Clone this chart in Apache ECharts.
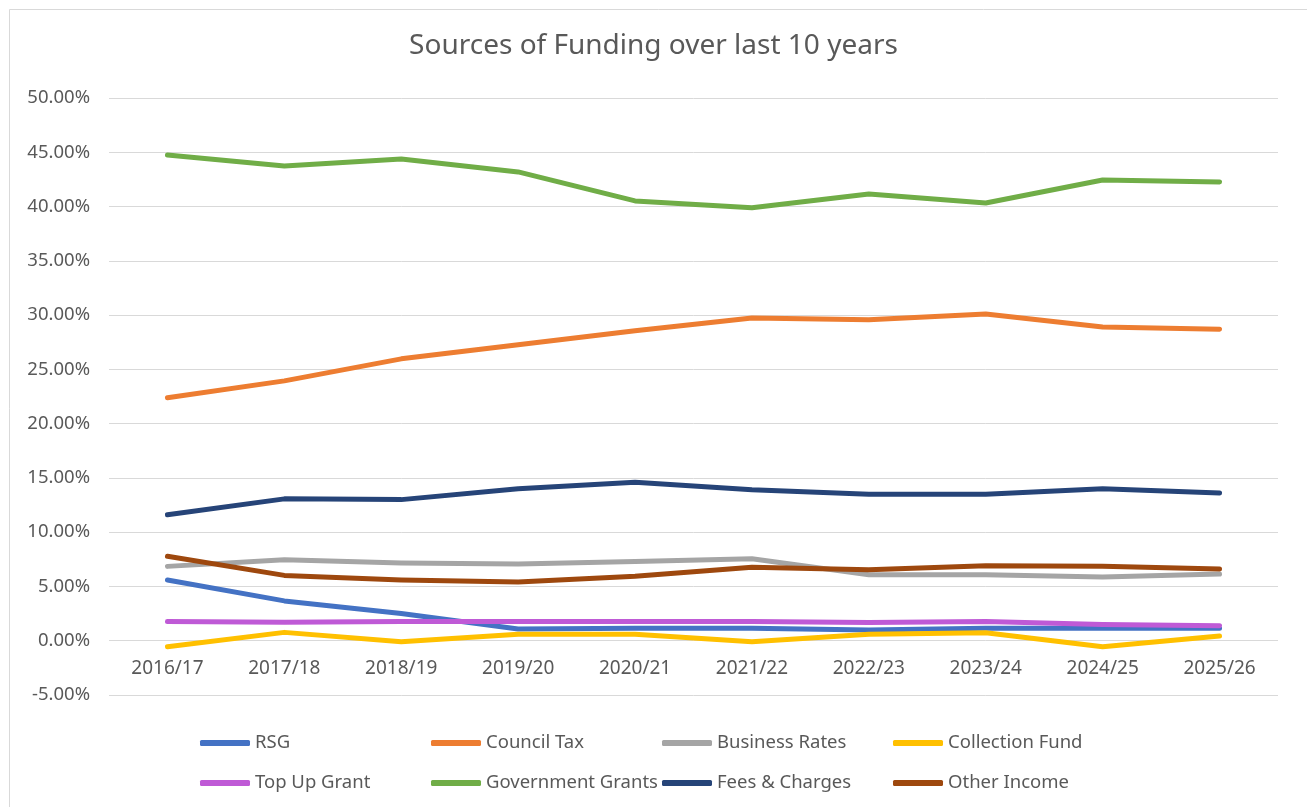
<!doctype html>
<html>
	<head>
		<meta charset="UTF-8">
		<title>Sources of Funding over last 10 years</title>
		<style type="text/css">
			html, body {
				margin: 0;
				padding: 0;
				background: #ffffff;
			}
			#chart {
				width: 1307px;
				height: 807px;
			}
		</style>
	</head>
	<body>
		<div id="chart"></div>
		<script src="https://cdn.jsdelivr.net/npm/echarts@6/dist/echarts.min.js"></script>
		<script type="text/javascript">
			// years on the category axis
			var years = ['2016/17', '2017/18', '2018/19', '2019/20', '2020/21', '2021/22', '2022/23', '2023/24', '2024/25', '2025/26'];

			// share of funding, in percent
			var rsg = [5.6, 3.67, 2.5, 1.08, 1.14, 1.14, 0.99, 1.14, 1.14, 1.14];
			var councilTax = [22.38, 23.94, 25.97, 27.26, 28.55, 29.74, 29.56, 30.1, 28.9, 28.7];
			var businessRates = [6.85, 7.47, 7.16, 7.07, 7.3, 7.56, 6.08, 6.08, 5.86, 6.14];
			var collectionFund = [-0.56, 0.77, -0.09, 0.59, 0.59, -0.09, 0.59, 0.74, -0.56, 0.43];
			var topUpGrant = [1.76, 1.7, 1.76, 1.76, 1.76, 1.76, 1.67, 1.76, 1.5, 1.39];
			var govGrants = [44.75, 43.74, 44.38, 43.19, 40.52, 39.88, 41.16, 40.33, 42.45, 42.27];
			var feesCharges = [11.6, 13.07, 13.0, 14.0, 14.6, 13.9, 13.5, 13.5, 14.0, 13.6];
			var otherIncome = [7.78, 6.02, 5.6, 5.4, 5.93, 6.76, 6.54, 6.91, 6.85, 6.6];

			// y axis ticks
			var yMin = -5, yMax = 50, yStep = 5;

			var names = ['RSG', 'Council Tax', 'Business Rates', 'Collection Fund', 'Top Up Grant', 'Government Grants', 'Fees & Charges', 'Other Income'];
			var values = [rsg, councilTax, businessRates, collectionFund, topUpGrant, govGrants, feesCharges, otherIncome];
			var colors = ['#4472C4', '#ED7D31', '#A5A5A5', '#FFC000', '#BF5AD6', '#70AD47', '#264478', '#9E480E'];

			var font = 'Noto Sans';
			var grey = '#595959';

			// plot box
			var gridTop = 98, gridBottom = 112;
			var plotHeight = 807 - gridTop - gridBottom;
			// move the category axis up so that it sits on 0%
			var zeroShift = plotHeight * (0 - yMin) / (yMax - yMin);

			var series = [];
			for (var i = 0; i < names.length; i++) {
				series.push({
					name: names[i],
					type: 'line',
					data: values[i],
					symbol: 'none',
					smooth: false,
					lineStyle: { width: 5, color: colors[i], cap: 'round', join: 'round' },
					itemStyle: { color: colors[i] }
				});
			}

			function makeLegend(items, top) {
				return {
					data: items,
					left: 200,
					top: top,
					padding: 0,
					orient: 'horizontal',
					icon: 'roundRect',
					itemWidth: 50,
					itemHeight: 6,
					itemGap: 0,
					textStyle: {
						fontFamily: font,
						fontSize: 18.5,
						color: grey,
						width: 176,
						lineHeight: 20
					}
				};
			}

			var chart = echarts.init(document.getElementById('chart'));
			var option = {
				backgroundColor: '#ffffff',
				animation: false,
				color: colors,
				title: {
					text: 'Sources of Funding over last 10 years',
					left: 'center',
					top: 27,
					textStyle: { fontFamily: font, fontSize: 28, fontWeight: 'normal', color: grey }
				},
				graphic: [{
					type: 'rect',
					shape: { x: 9.5, y: 9.5, width: 1320, height: 820 },
					style: { fill: 'none', stroke: '#d9d9d9', lineWidth: 1 },
					silent: true
				}],
				legend: [
					makeLegend(names.slice(0, 4), 733),
					makeLegend(names.slice(4), 773)
				],
				grid: { left: 109, right: 29, top: gridTop, bottom: gridBottom, containLabel: false },
				xAxis: {
					type: 'category',
					data: years,
					boundaryGap: true,
					position: 'bottom',
					offset: -zeroShift,
					axisLine: { show: false, onZero: false },
					axisTick: { show: false },
					axisLabel: { fontFamily: font, fontSize: 19, color: grey, margin: 18 }
				},
				yAxis: {
					type: 'value',
					min: yMin,
					max: yMax,
					interval: yStep,
					axisLine: { show: false },
					axisTick: { show: false },
					splitLine: { lineStyle: { color: '#d9d9d9', width: 1 } },
					axisLabel: {
						fontFamily: font,
						fontSize: 18.5,
						color: grey,
						margin: 19,
						formatter: function (v) { return v.toFixed(2) + '%'; }
					}
				},
				series: series
			};
			chart.setOption(option);
		</script>
	</body>
</html>
